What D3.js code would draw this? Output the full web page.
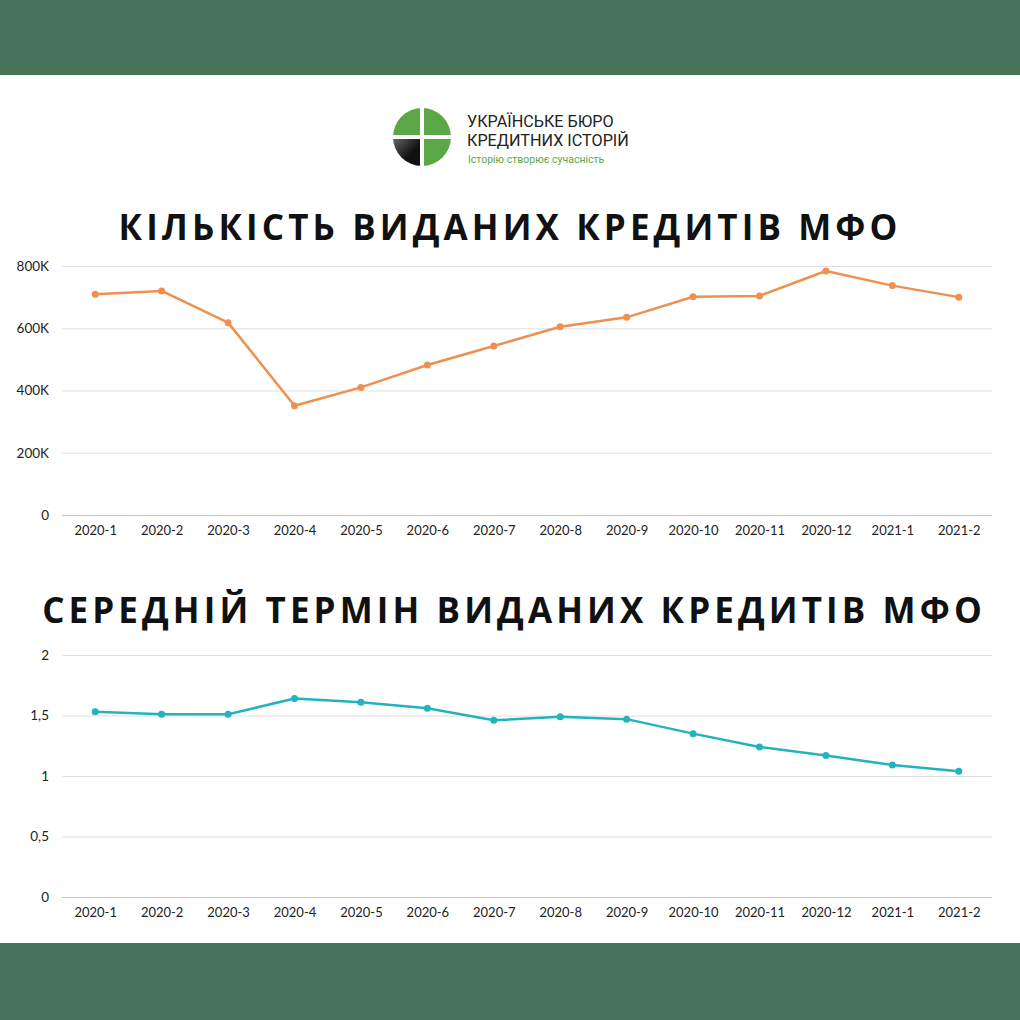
<!DOCTYPE html>
<html><head><meta charset="utf-8">
<script src="https://cdn.jsdelivr.net/npm/d3@7"></script>
<style>body{margin:0;background:#fff}svg{display:block}</style>
</head><body>
<svg id="c" width="1020" height="1020"></svg>
<script>
const months = ["2020-1","2020-2","2020-3","2020-4","2020-5","2020-6","2020-7","2020-8","2020-9","2020-10","2020-11","2020-12","2021-1","2021-2"];
const loansCount = [709000,720000,618000,351000,410000,482000,543000,605000,635000,701000,704000,784000,737000,700000];
const avgTerm = [1.53,1.51,1.51,1.64,1.61,1.56,1.46,1.49,1.47,1.35,1.24,1.17,1.09,1.04];
const countTicks = [0,200000,400000,600000,800000];
const countTickLabels = ["0","200K","400K","600K","800K"];
const termTicks = [0,0.5,1,1.5,2];
const termTickLabels = ["0","0,5","1","1,5","2"];
const title1 = "КІЛЬКІСТЬ ВИДАНИХ КРЕДИТІВ МФО";
const title2 = "СЕРЕДНІЙ ТЕРМІН ВИДАНИХ КРЕДИТІВ МФО";

const svg = d3.select("#c");
const bannerColor = "#48735a";
svg.append("rect").attr("x",0).attr("y",0).attr("width",1020).attr("height",75).attr("fill",bannerColor);
svg.append("rect").attr("x",0).attr("y",943).attr("width",1020).attr("height",77).attr("fill",bannerColor);

// Logo
const defs = svg.append("defs");
const g1 = defs.append("linearGradient").attr("id","blk").attr("x1","0").attr("y1","0").attr("x2","1").attr("y2","1");
g1.append("stop").attr("offset","0").attr("stop-color","#6a6a6a");
g1.append("stop").attr("offset","0.6").attr("stop-color","#111");
const cx=422, cy=137, r=29;
const arc = d3.arc().innerRadius(0).outerRadius(r);
const logo = svg.append("g").attr("transform",`translate(${cx},${cy})`);
const quads = [[0,Math.PI/2,"#5aa845"],[Math.PI/2,Math.PI,"#5aa845"],[Math.PI,1.5*Math.PI,"url(#blk)"],[1.5*Math.PI,2*Math.PI,"#5aa845"]];
quads.forEach(q=>logo.append("path").attr("d",arc({startAngle:q[0],endAngle:q[1]})).attr("fill",q[2]));
logo.append("rect").attr("x",-2).attr("y",-r-1).attr("width",4).attr("height",2*r+2).attr("fill","#fff");
logo.append("rect").attr("x",-r-1).attr("y",-2).attr("width",2*r+2).attr("height",4).attr("fill","#fff");
svg.append("text").attr("x",467).attr("y",127).attr("font-family","Roboto, sans-serif").attr("font-size",16.2).attr("fill","#222").text("УКРАЇНСЬКЕ БЮРО");
svg.append("text").attr("x",467).attr("y",146).attr("font-family","Roboto, sans-serif").attr("font-size",16.2).attr("fill","#222").text("КРЕДИТНИХ ІСТОРІЙ");
svg.append("text").attr("x",468).attr("y",163).attr("font-family","Roboto, sans-serif").attr("font-size",10.5).attr("fill","#5aa845").text("Історію створює сучасність");

function chart(opts){
  const x = d3.scalePoint().domain(months).range([62,992]).padding(0.5);
  const y = d3.scaleLinear().domain([0,opts.max]).range([opts.y0,opts.y1]);
  const g = svg.append("g");
  g.append("text").attr("x",opts.tx).attr("y",opts.ty).attr("text-anchor","middle")
    .attr("font-family","'Open Sans', sans-serif").attr("font-weight",700).attr("font-size",35)
    .attr("letter-spacing",opts.ls).attr("fill","#111").text(opts.title);
  const ya = d3.axisLeft(y).tickValues(opts.ticks).tickSize(-930).tickFormat((d,i)=>opts.labels[i]);
  const ag = g.append("g").attr("transform","translate(62,0)").call(ya);
  ag.select(".domain").remove();
  ag.selectAll(".tick line").attr("stroke",(d)=>d===0?"#c8c8c8":"#e0e0e0").attr("stroke-width",1.2);
  ag.selectAll(".tick text").attr("x",-13).attr("font-family","Lato, sans-serif").attr("font-size",13.5).attr("fill","#222");
  const xa = d3.axisBottom(x).tickSize(0).tickPadding(11);
  const xg = g.append("g").attr("transform",`translate(0,${opts.y0})`).call(xa);
  xg.select(".domain").remove();
  xg.selectAll(".tick text").attr("font-family","Lato, sans-serif").attr("font-size",13).attr("fill","#222");
  const line = d3.line().x((d,i)=>x(months[i])).y(d=>y(d));
  g.append("path").datum(opts.data).attr("d",line).attr("fill","none").attr("stroke",opts.color).attr("stroke-width",2.5).attr("stroke-linejoin","round");
  g.selectAll("circle.pt").data(opts.data).join("circle").attr("cx",(d,i)=>x(months[i])).attr("cy",d=>y(d)).attr("r",3.5).attr("fill",opts.color);
}
chart({data:loansCount,max:800000,y0:515,y1:266,ticks:countTicks,labels:countTickLabels,color:"#ef904f",title:title1,tx:510,ty:240,ls:4.1});
chart({data:avgTerm,max:2,y0:897,y1:655,ticks:termTicks,labels:termTickLabels,color:"#22b3bd",title:title2,tx:514,ty:623,ls:4.1});
</script>
</body></html>
